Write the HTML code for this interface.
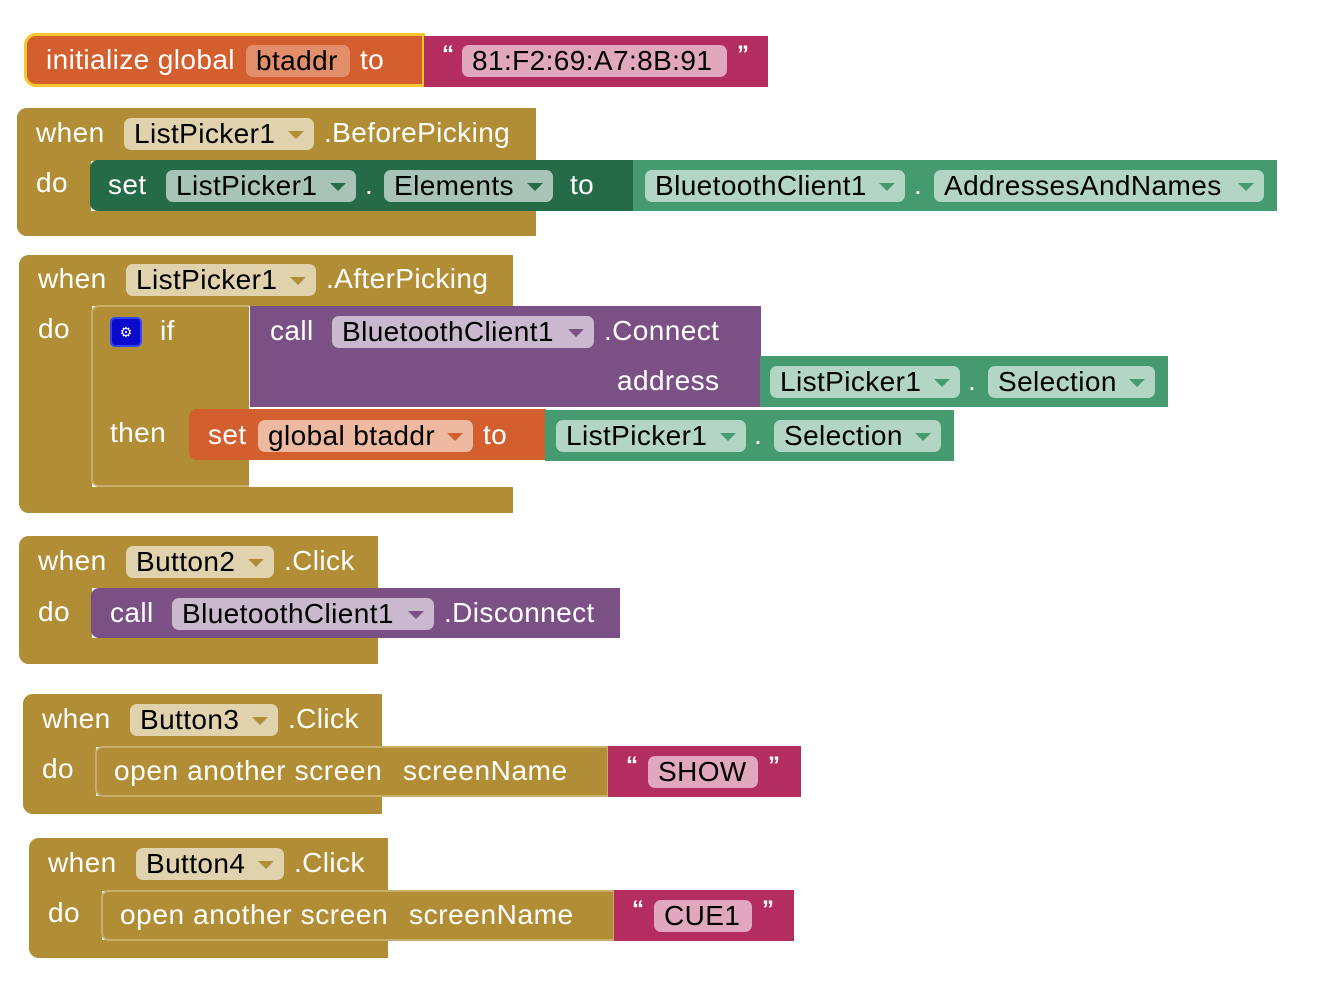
<!DOCTYPE html>
<html><head><meta charset="utf-8"><style>
body{margin:0;width:1324px;height:1004px;background:#fff;position:relative;overflow:hidden;font-family:"Liberation Sans",sans-serif;}
.b{position:absolute;box-sizing:border-box;}
.t{position:absolute;color:#fff;font-size:28px;line-height:30px;letter-spacing:0.4px;white-space:nowrap;}
.f{position:absolute;height:32px;border-radius:7px;box-sizing:border-box;color:#000;font-size:28px;line-height:32px;padding-left:10px;letter-spacing:0.4px;white-space:nowrap;}
.f.a::after{content:"";position:absolute;right:10px;top:13px;border-left:8px solid transparent;border-right:8px solid transparent;border-top:8px solid var(--c);}
.q{position:absolute;color:#fff;font-size:24px;font-weight:bold;line-height:30px;}
.gold{background:#B18E35;}
.gf{background:#E1D2AE;--c:#B18E35;}
.dg{background:#266B48;}
.dgf{background:#A8C4B6;--c:#266B48;}
.lg{background:#459B6F;}
.lgf{background:#B3D6C4;--c:#459B6F;}
.pu{background:#7B5185;}
.puf{background:#C9B8CE;--c:#7B5185;}
.or{background:#D35F2E;}
.orf{background:#EDB9A0;--c:#D35F2E;}
.pk{background:#B32D5E;}
.pkf{background:#E1A7BF;}
</style></head><body>

<!-- init global -->
<div class="b or" style="left:24px;top:33px;width:401px;height:54px;border:3px solid #F7C72C;border-radius:12px 0 0 12px;"></div>
<div class="t" style="left:46px;top:45px">initialize global</div>
<div class="f orf" style="left:246px;top:45px;width:104px;background:#E38E6B;">btaddr</div>
<div class="t" style="left:360px;top:45px">to</div>
<div class="b pk" style="left:424px;top:36px;width:344px;height:51px;"></div>
<div class="q" style="left:442px;top:40px">“</div>
<div class="f pkf" style="left:462px;top:45px;width:265px;">81:F2:69:A7:8B:91</div>
<div class="q" style="left:737px;top:40px">”</div>

<!-- BeforePicking -->
<div class="b gold" style="left:17px;top:108px;width:519px;height:53px;border-radius:10px 0 0 0;"></div>
<div class="b gold" style="left:17px;top:108px;width:74px;height:128px;border-radius:10px 0 0 10px;"></div>
<div class="b gold" style="left:17px;top:211px;width:519px;height:25px;border-radius:0 0 0 10px;"></div>
<div class="t" style="left:36px;top:118px">when</div>
<div class="f gf a" style="left:124px;top:118px;width:190px;">ListPicker1</div>
<div class="t" style="left:324px;top:118px">.BeforePicking</div>
<div class="t" style="left:36px;top:168px">do</div>
<div class="b dg" style="left:90px;top:160px;width:544px;height:51px;border-radius:8px 0 0 8px;"></div>
<div class="t" style="left:108px;top:170px">set</div>
<div class="f dgf a" style="left:166px;top:170px;width:190px;">ListPicker1</div>
<div class="t" style="left:365px;top:170px">.</div>
<div class="f dgf a" style="left:384px;top:170px;width:169px;">Elements</div>
<div class="t" style="left:570px;top:170px">to</div>
<div class="b lg" style="left:633px;top:160px;width:644px;height:51px;"></div>
<div class="f lgf a" style="left:645px;top:170px;width:260px;">BluetoothClient1</div>
<div class="t" style="left:914px;top:170px">.</div>
<div class="f lgf a" style="left:934px;top:170px;width:330px;">AddressesAndNames</div>

<!-- AfterPicking -->
<div class="b gold" style="left:19px;top:255px;width:494px;height:51px;border-radius:10px 0 0 0;"></div>
<div class="b gold" style="left:19px;top:255px;width:73px;height:258px;border-radius:10px 0 0 10px;"></div>
<div class="b gold" style="left:19px;top:487px;width:494px;height:26px;border-radius:0 0 0 10px;"></div>
<div class="t" style="left:38px;top:264px">when</div>
<div class="f gf a" style="left:126px;top:264px;width:190px;">ListPicker1</div>
<div class="t" style="left:326px;top:264px">.AfterPicking</div>
<div class="t" style="left:38px;top:314px">do</div>
<div class="b gold" style="left:91px;top:305px;width:158px;height:182px;border-radius:8px 0 0 8px;border:2px solid #C8AE6B;border-right:none;"></div>
<div class="b" style="left:110px;top:317px;width:32px;height:30px;background:#0A0ACC;border:2px solid #3344ff;border-radius:5px;color:#fff;font-size:14px;text-align:center;line-height:26px;">⚙</div>
<div class="t" style="left:160px;top:316px">if</div>
<div class="t" style="left:110px;top:418px">then</div>
<div class="b pu" style="left:250px;top:306px;width:511px;height:101px;"></div>
<div class="t" style="left:270px;top:316px">call</div>
<div class="f puf a" style="left:332px;top:316px;width:262px;">BluetoothClient1</div>
<div class="t" style="left:604px;top:316px">.Connect</div>
<div class="t" style="left:617px;top:366px">address</div>
<div class="b lg" style="left:760px;top:356px;width:408px;height:51px;"></div>
<div class="f lgf a" style="left:770px;top:366px;width:190px;">ListPicker1</div>
<div class="t" style="left:968px;top:366px">.</div>
<div class="f lgf a" style="left:988px;top:366px;width:167px;">Selection</div>
<div class="b or" style="left:189px;top:409px;width:357px;height:51px;border-radius:8px 0 0 8px;"></div>
<div class="t" style="left:208px;top:420px">set</div>
<div class="f orf a" style="left:258px;top:420px;width:215px;">global btaddr</div>
<div class="t" style="left:483px;top:420px">to</div>
<div class="b lg" style="left:545px;top:410px;width:409px;height:51px;"></div>
<div class="f lgf a" style="left:556px;top:420px;width:190px;">ListPicker1</div>
<div class="t" style="left:754px;top:420px">.</div>
<div class="f lgf a" style="left:774px;top:420px;width:167px;">Selection</div>

<!-- Button2 -->
<div class="b gold" style="left:19px;top:536px;width:359px;height:52px;border-radius:10px 0 0 0;"></div>
<div class="b gold" style="left:19px;top:536px;width:73px;height:128px;border-radius:10px 0 0 10px;"></div>
<div class="b gold" style="left:19px;top:638px;width:359px;height:26px;border-radius:0 0 0 10px;"></div>
<div class="t" style="left:38px;top:546px">when</div>
<div class="f gf a" style="left:126px;top:546px;width:148px;">Button2</div>
<div class="t" style="left:284px;top:546px">.Click</div>
<div class="t" style="left:38px;top:597px">do</div>
<div class="b pu" style="left:91px;top:588px;width:529px;height:50px;border-radius:8px 0 0 8px;"></div>
<div class="t" style="left:110px;top:598px">call</div>
<div class="f puf a" style="left:172px;top:598px;width:262px;">BluetoothClient1</div>
<div class="t" style="left:444px;top:598px">.Disconnect</div>

<!-- Button3 -->
<div class="b gold" style="left:23px;top:694px;width:359px;height:53px;border-radius:10px 0 0 0;"></div>
<div class="b gold" style="left:23px;top:694px;width:73px;height:120px;border-radius:10px 0 0 10px;"></div>
<div class="b gold" style="left:23px;top:796px;width:359px;height:18px;border-radius:0 0 0 10px;"></div>
<div class="t" style="left:42px;top:704px">when</div>
<div class="f gf a" style="left:130px;top:704px;width:148px;">Button3</div>
<div class="t" style="left:288px;top:704px">.Click</div>
<div class="t" style="left:42px;top:754px">do</div>
<div class="b gold" style="left:95px;top:746px;width:514px;height:51px;border-radius:8px 0 0 8px;border:2px solid #C8AE6B;"></div>
<div class="t" style="left:114px;top:756px;letter-spacing:0.6px">open another screen</div>
<div class="t" style="left:403px;top:756px;letter-spacing:0.6px">screenName</div>
<div class="b pk" style="left:608px;top:746px;width:193px;height:51px;"></div>
<div class="q" style="left:626px;top:751px">“</div>
<div class="f pkf" style="left:648px;top:756px;width:110px;">SHOW</div>
<div class="q" style="left:768px;top:751px">”</div>

<!-- Button4 -->
<div class="b gold" style="left:29px;top:838px;width:359px;height:53px;border-radius:10px 0 0 0;"></div>
<div class="b gold" style="left:29px;top:838px;width:73px;height:120px;border-radius:10px 0 0 10px;"></div>
<div class="b gold" style="left:29px;top:940px;width:359px;height:18px;border-radius:0 0 0 10px;"></div>
<div class="t" style="left:48px;top:848px">when</div>
<div class="f gf a" style="left:136px;top:848px;width:148px;">Button4</div>
<div class="t" style="left:294px;top:848px">.Click</div>
<div class="t" style="left:48px;top:898px">do</div>
<div class="b gold" style="left:101px;top:890px;width:514px;height:51px;border-radius:8px 0 0 8px;border:2px solid #C8AE6B;"></div>
<div class="t" style="left:120px;top:900px;letter-spacing:0.6px">open another screen</div>
<div class="t" style="left:409px;top:900px;letter-spacing:0.6px">screenName</div>
<div class="b pk" style="left:614px;top:890px;width:180px;height:51px;"></div>
<div class="q" style="left:632px;top:895px">“</div>
<div class="f pkf" style="left:654px;top:900px;width:98px;">CUE1</div>
<div class="q" style="left:762px;top:895px">”</div>

</body></html>
